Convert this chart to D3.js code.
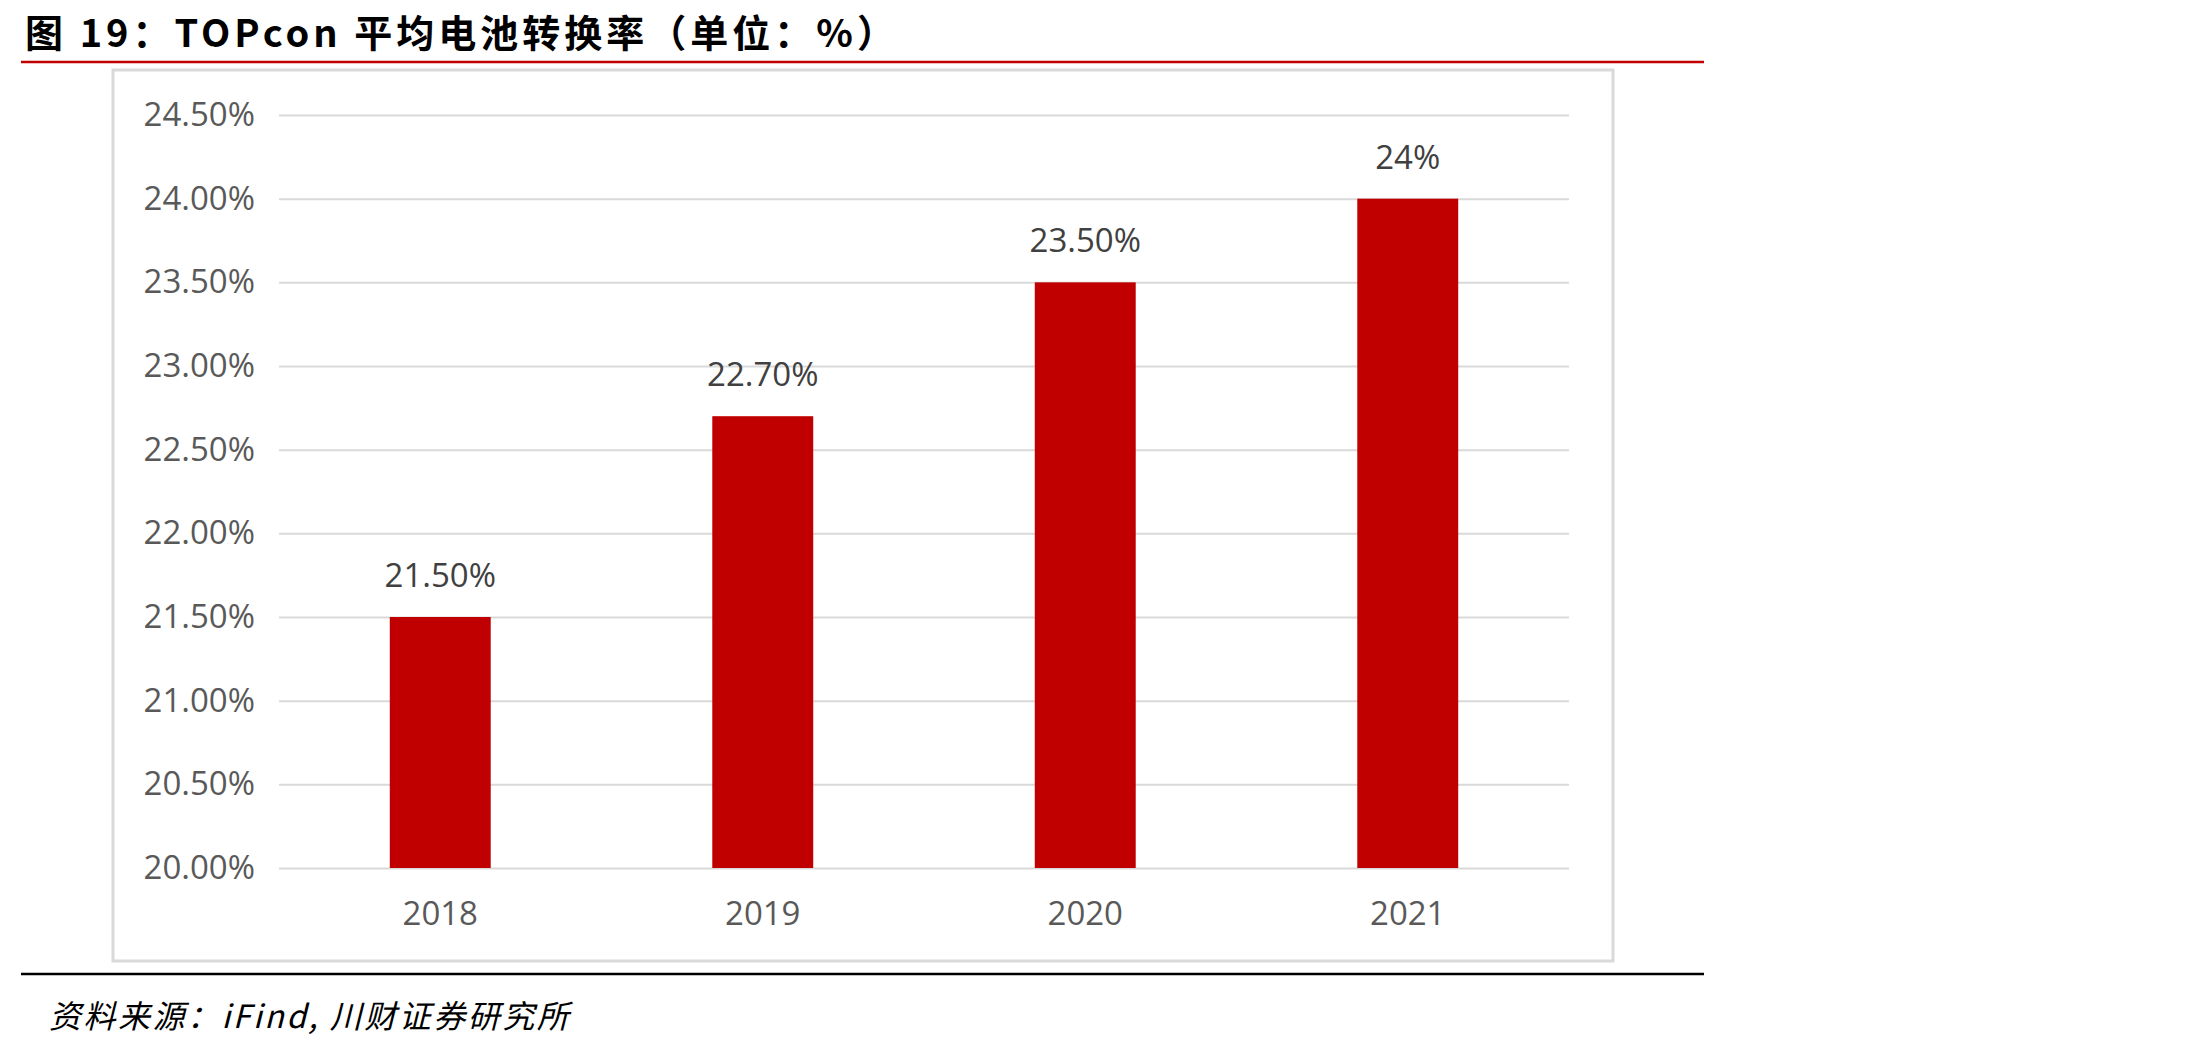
<!DOCTYPE html>
<html><head><meta charset="utf-8">
<script src="https://cdn.jsdelivr.net/npm/d3@7"></script>
<style>body{margin:0;background:#fff;}svg{display:block;}</style>
</head><body>
<svg id="c" width="2207" height="1047"></svg>
<script>
const categories = ["2018","2019","2020","2021"];
const values = [21.5, 22.7, 23.5, 24.0];
const valueLabels = ["21.50%","22.70%","23.50%","24%"];
const yTicks = [20.0,20.5,21.0,21.5,22.0,22.5,23.0,23.5,24.0,24.5];
const title = "图 19：TOPcon 平均电池转换率（单位：%）";
const source = "资料来源：iFind, 川财证券研究所";

const svg = d3.select("#c");
const W = 2207, H = 1047;
svg.append("rect").attr("width",W).attr("height",H).attr("fill","#fff");

// title
svg.append("text").attr("x",25).attr("y",47)
  .attr("font-family","'Noto Sans CJK SC'").attr("font-weight","bold")
  .attr("font-size",38).attr("letter-spacing",4).attr("fill","#000").text(title);
// red rule
svg.append("line").attr("x1",21).attr("x2",1704).attr("y1",62).attr("y2",62)
  .attr("stroke","#c00000").attr("stroke-width",2.5);

// chart box
svg.append("rect").attr("x",113).attr("y",70).attr("width",1500).attr("height",891)
  .attr("fill","none").attr("stroke","#d9d9d9").attr("stroke-width",3);

const x = d3.scaleBand().domain(categories).range([279,1569]).paddingInner(0.687).paddingOuter(0.3435);
const y = d3.scaleLinear().domain([20,24.5]).range([868,115]);

const fontTxt = "'Open Sans', 'Liberation Sans', sans-serif";

// gridlines via axis
const yAxis = d3.axisLeft(y).tickValues(yTicks).tickSize(-(1569-279)).tickPadding(24)
  .tickFormat(d => d.toFixed(2) + "%");
const gy = svg.append("g").attr("transform","translate(279,0)").call(yAxis);
gy.select(".domain").remove();
gy.selectAll(".tick line").attr("stroke","#d9d9d9").attr("stroke-width",2);
gy.selectAll(".tick text").attr("font-family",fontTxt).attr("font-size",33).attr("fill","#595959");

// bars
svg.append("g").selectAll("rect").data(values).join("rect")
  .attr("x",(d,i)=>x(categories[i])).attr("width",x.bandwidth())
  .attr("y",d=>y(d)).attr("height",d=>y(20)-y(d)).attr("fill","#c00000");

// value labels
svg.append("g").selectAll("text").data(values).join("text")
  .attr("x",(d,i)=>x(categories[i])+x.bandwidth()/2).attr("y",d=>y(d)-30)
  .attr("text-anchor","middle").attr("font-family",fontTxt).attr("font-size",33)
  .attr("fill","#404040").text((d,i)=>valueLabels[i]);

// x axis
const xAxis = d3.axisBottom(x).tickSize(0).tickPadding(34);
const gx = svg.append("g").attr("transform","translate(0,868)").call(xAxis);
gx.select(".domain").remove();
gx.selectAll(".tick text").attr("font-family",fontTxt).attr("font-size",33).attr("fill","#595959");

// black rule
svg.append("line").attr("x1",21).attr("x2",1704).attr("y1",974).attr("y2",974)
  .attr("stroke","#000").attr("stroke-width",2.5);

// source
svg.append("text").attr("x",49).attr("y",1028)
  .attr("font-family","'Noto Sans CJK SC'").attr("font-style","italic")
  .attr("font-size",32).attr("letter-spacing",2.5).attr("fill","#000").text(source);
</script>
</body></html>
